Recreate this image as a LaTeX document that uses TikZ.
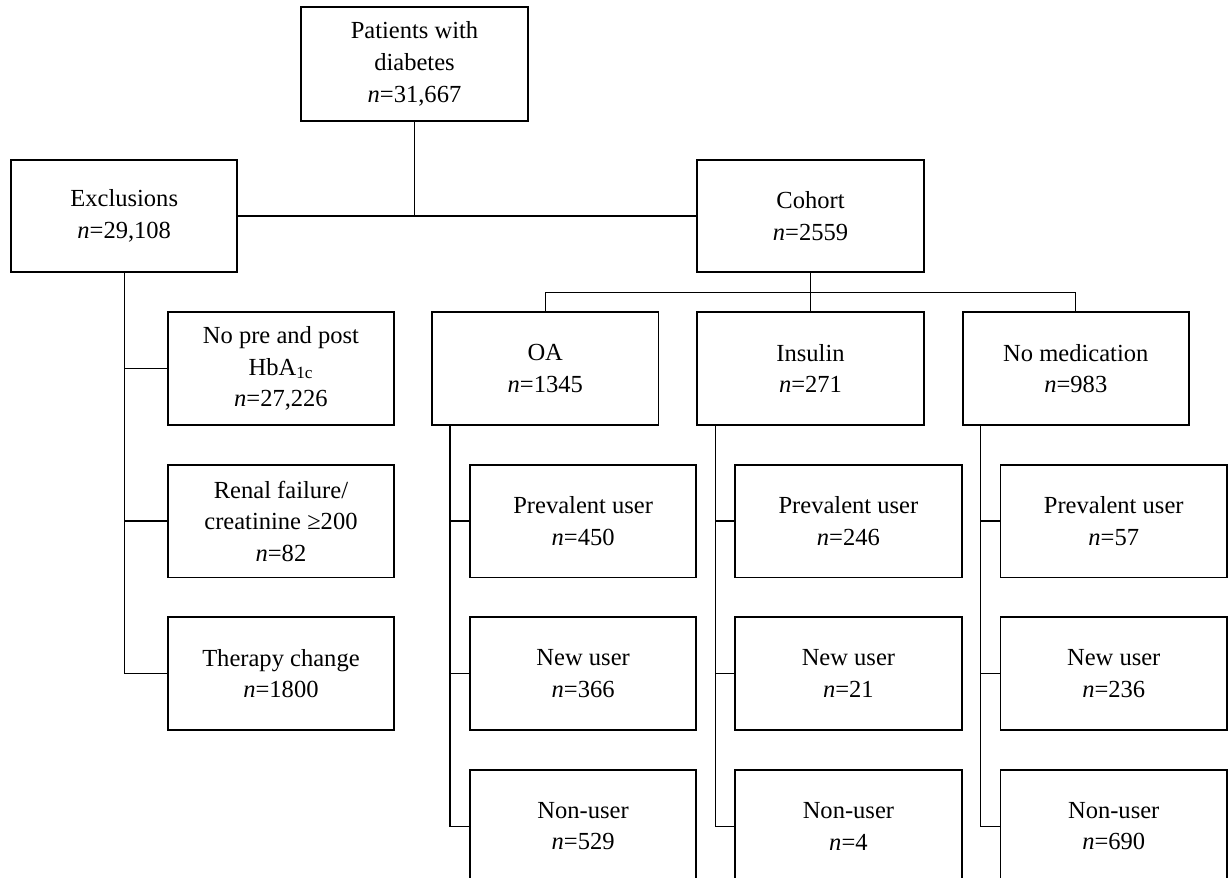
\documentclass[tikz,border=0pt]{standalone}
\usepackage{fontspec}
\setmainfont{Liberation Serif}
\usetikzlibrary{positioning, calc}

\begin{document}
\begin{tikzpicture}[
    box/.style={draw, line width=1.1pt, minimum width=4.54cm, minimum height=2.26cm,
        align=center, inner sep=2pt, font=\fontsize{14}{18}\selectfont},
    link/.style={line width=0.75pt},
    node distance=0.76cm]
    \useasboundingbox (0,0) rectangle (24.62,-17.6);

    % top level
    \node[box, minimum height=2.28cm] (top) at (8.31,-1.28) {Patients with\\diabetes\\\textit{n}=31,667};
    \node[box] (excl) at (2.49,-4.33) {Exclusions\\\textit{n}=29,108};
    \node[box] (cohort) at (16.25,-4.33) {Cohort\\\textit{n}=2559};

    % medication groups
    \node[box, below=of cohort] (ins) {Insulin\\\textit{n}=271};
    \node[box, left=0.74cm of ins] (oa) {OA\\\textit{n}=1345};
    \node[box, right=0.74cm of ins] (nomed) {No medication\\\textit{n}=983};

    % exclusion reasons
    \node[box, left=0.72cm of oa] (nopre) {No pre and post\\HbA\textsubscript{1c}\\\textit{n}=27,226};
    \node[box, below=of nopre] (renal) {Renal failure/\\creatinine ≥200\\\textit{n}=82};
    \node[box, below=of renal] (therapy) {Therapy change\\\textit{n}=1800};

    % users per group
    \node[box, below right=0.76cm and 0.76cm of oa.south west] (oa-prev) {Prevalent user\\\textit{n}=450};
    \node[box, below=of oa-prev] (oa-new) {New user\\\textit{n}=366};
    \node[box, below=of oa-new] (oa-non) {Non-user\\\textit{n}=529};
    \node[box, below right=0.76cm and 0.76cm of ins.south west] (ins-prev) {Prevalent user\\\textit{n}=246};
    \node[box, below=of ins-prev] (ins-new) {New user\\\textit{n}=21};
    \node[box, below=of ins-new] (ins-non) {Non-user\\\textit{n}=4};
    \node[box, below right=0.76cm and 0.76cm of nomed.south west] (nomed-prev) {Prevalent user\\\textit{n}=57};
    \node[box, below=of nomed-prev] (nomed-new) {New user\\\textit{n}=236};
    \node[box, below=of nomed-new] (nomed-non) {Non-user\\\textit{n}=690};

    % connectors
    \draw[link] (excl.east) -- (cohort.west);
    \draw[link] (top.south) -- (top.south |- excl.east);
    \coordinate (split) at ($(cohort.south)!0.5!(ins.north)$);
    \draw[link] (cohort.south) -- (ins.north);
    \draw[link] (oa.north) |- (split) -| (nomed.north);

    \draw[link] (excl.south) |- (therapy.west);
    \draw[link] (nopre.west) -- (nopre.west -| excl.south);
    \draw[link] (renal.west) -- (renal.west -| excl.south);

    \foreach \g in {oa, ins, nomed} {
        \draw[link] ($(\g.south west)+(0.38,0)$) coordinate (\g-spine) |- (\g-non.west);
        \foreach \s in {prev, new}
            \draw[link] (\g-\s.west) -- (\g-\s.west -| \g-spine);
    }
\end{tikzpicture}
\end{document}
